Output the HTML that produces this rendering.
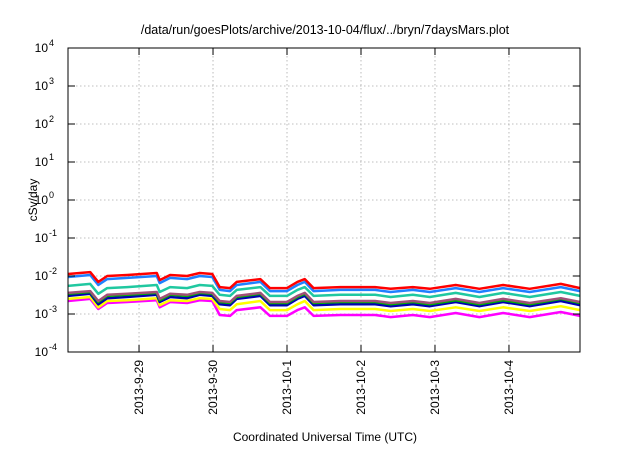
<!DOCTYPE html>
<html><head><meta charset="utf-8"><style>
body{margin:0;background:#fff;width:640px;height:448px;overflow:hidden}
svg{font-family:"Liberation Sans",sans-serif}
</style></head><body>
<svg id="chart" width="640" height="448" viewBox="0 0 640 448" xmlns="http://www.w3.org/2000/svg">
<text x="325" y="34" font-size="12.5" text-anchor="middle">/data/run/goesPlots/archive/2013-10-04/flux/../bryn/7daysMars.plot</text>
<text transform="translate(37,200) rotate(-90)" font-size="12" text-anchor="middle">cSv/day</text>
<text x="325" y="441" font-size="12" text-anchor="middle">Coordinated Universal Time (UTC)</text>
<g id="grid"></g><g id="series"></g><g id="axes"></g>
</svg>
<script>
// days since 2013-09-29 00:00 UTC
const times=[-0.96,-0.66,-0.55,-0.43,-0.16,0.24,0.28,0.42,0.65,0.82,0.99,1.09,1.23,1.32,1.64,1.77,2.0,2.14,2.24,2.36,2.72,3.19,3.4,3.7,3.93,4.28,4.6,4.92,5.28,5.7,5.96];
const red=[0.0113,0.0127,0.0070,0.0100,0.0106,0.0120,0.0078,0.0106,0.0100,0.0120,0.0113,0.0051,0.0048,0.0070,0.0083,0.0048,0.0048,0.0070,0.0083,0.0048,0.0051,0.0051,0.0046,0.0051,0.0046,0.0058,0.0046,0.0058,0.0046,0.0062,0.0048];
const blue=[0.0094,0.0106,0.0058,0.0083,0.0089,0.0100,0.0065,0.0089,0.0083,0.0100,0.0094,0.0043,0.0040,0.0058,0.0070,0.0040,0.0040,0.0058,0.0070,0.0040,0.0043,0.0043,0.0038,0.0043,0.0038,0.0048,0.0038,0.0048,0.0038,0.0051,0.0040];
const teal=[0.0055,0.0062,0.0034,0.0048,0.0051,0.0058,0.0038,0.0051,0.0048,0.0058,0.0055,0.0032,0.0030,0.0043,0.0051,0.0030,0.0030,0.0043,0.0051,0.0030,0.0032,0.0032,0.0028,0.0032,0.0028,0.0036,0.0028,0.0036,0.0028,0.0038,0.0030];
const brown=[0.0036,0.0040,0.0022,0.0032,0.0034,0.0038,0.0025,0.0034,0.0032,0.0038,0.0036,0.0022,0.00207,0.0030,0.0036,0.00207,0.00207,0.0030,0.0036,0.00207,0.0022,0.0022,0.00195,0.0022,0.00195,0.0025,0.00195,0.0025,0.00195,0.0026,0.00207];
const green=[0.0034,0.0038,0.00207,0.0030,0.0032,0.0036,0.0023,0.0032,0.0030,0.0036,0.0034,0.00207,0.00195,0.0028,0.0034,0.00195,0.00195,0.0028,0.0034,0.00195,0.00207,0.00207,0.0018,0.00207,0.0018,0.0023,0.0018,0.0023,0.0018,0.0025,0.00195];
const navy=[0.0030,0.0034,0.0018,0.0026,0.0028,0.0032,0.00207,0.0028,0.0026,0.0032,0.0030,0.0018,0.0017,0.0025,0.0030,0.0017,0.0017,0.0025,0.0030,0.0017,0.0018,0.0018,0.0016,0.0018,0.0016,0.00207,0.0016,0.00207,0.0016,0.0022,0.0017];
const yellow=[0.0025,0.0028,0.0015,0.0022,0.0023,0.0026,0.0017,0.0023,0.0022,0.0026,0.0025,0.00135,0.00127,0.0018,0.0022,0.00127,0.00127,0.0018,0.0022,0.00127,0.00135,0.00135,0.0012,0.00135,0.0012,0.0015,0.0012,0.0015,0.0012,0.0016,0.00127];
const magenta=[0.0022,0.0025,0.00135,0.00195,0.00207,0.0023,0.0015,0.00207,0.00195,0.0023,0.0022,0.00094,0.00089,0.00127,0.0015,0.00089,0.00089,0.00127,0.0015,0.00089,0.00094,0.00094,0.00083,0.00094,0.00083,0.00106,0.00083,0.00106,0.00083,0.00113,0.00089];
const xTickDays=[0,1,2,3,4,5];
const xTickLabels=["2013-9-29","2013-9-30","2013-10-1","2013-10-2","2013-10-3","2013-10-4"];
const yTickExps=[-4,-3,-2,-1,0,1,2,3,4];

const L=68,R=580,T=48,B=352,X0=-0.96,X1=5.96;
const xs=t=>L+(t-X0)/(X1-X0)*(R-L);
const ys=v=>B-(Math.log10(v)+4)/8*(B-T);
const NS="http://www.w3.org/2000/svg";
function mk(tag,attrs,parent){const e=document.createElementNS(NS,tag);for(const k in attrs)e.setAttribute(k,attrs[k]);parent.appendChild(e);return e;}
const grid=document.getElementById('grid'),axes=document.getElementById('axes'),ser=document.getElementById('series');

yTickExps.forEach(ex=>{
  const y=ys(Math.pow(10,ex));
  if(ex>-4&&ex<4){const g=mk('line',{x1:L,x2:R,y1:y,y2:y,stroke:'#aaa','stroke-width':0.8,'stroke-dasharray':'1.5,2.5'},grid);
  
  }
  const t1=mk('line',{x1:L,x2:L+7,y1:y,y2:y,stroke:'#000'},axes);
  
  
  const t2=mk('line',{x1:R,x2:R-7,y1:y,y2:y,stroke:'#000'},axes);
  
  
  const tx=mk('text',{x:L-20,y:y+4,'font-size':12,'text-anchor':'end'},axes);
  
  
  tx.textContent='10';
  const sp=mk('tspan',{x:L-19,dy:-6,'font-size':9,'text-anchor':'start'},tx);
  sp.textContent=String(ex);
});
xTickDays.forEach((d,i)=>{
  const x=xs(d);
  const g=mk('line',{x1:x,x2:x,y1:T,y2:B,stroke:'#aaa','stroke-width':0.8,'stroke-dasharray':'1.5,2.5'},grid);
  
  
  const t1=mk('line',{x1:x,x2:x,y1:B,y2:B-7,stroke:'#000'},axes);
  
  
  const t2=mk('line',{x1:x,x2:x,y1:T,y2:T+7,stroke:'#000'},axes);
  
  
  const tx=mk('text',{transform:`translate(${x+4},${B+8}) rotate(-90)`,'font-size':12,'text-anchor':'end'},axes);
  
  
  tx.textContent=xTickLabels[i];
});
const frame=mk('rect',{x:L,y:T,width:R-L,height:B-T,fill:'none',stroke:'#000','stroke-width':1},axes);



const seriesList=[[magenta,'#ff00ff','series-magenta'],[yellow,'#ffff00','series-yellow'],[navy,'#0000b0','series-navy'],[green,'#00b000','series-green'],[brown,'#a05078','series-mauve'],[teal,'#20c8a0','series-teal'],[blue,'#2080ff','series-blue'],[red,'#ff0000','series-red']];
seriesList.forEach(([arr,col,name])=>{
  const d=arr.map((v,i)=>(i?'L':'M')+xs(times[i]).toFixed(1)+','+ys(v).toFixed(1)).join('');
  const p=mk('path',{d:d,fill:'none',stroke:col,'stroke-width':2.5,'stroke-linejoin':'round'},ser);
  
  
});
</script>
</body></html>
